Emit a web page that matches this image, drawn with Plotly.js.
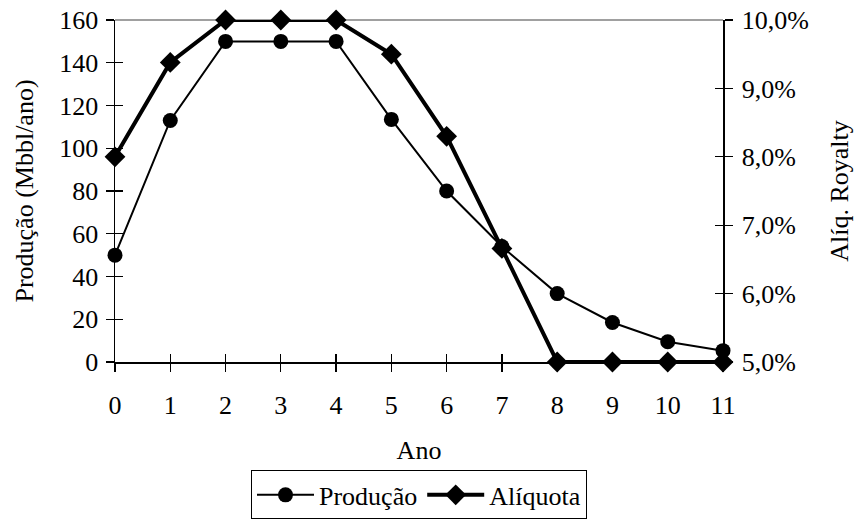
<!DOCTYPE html>
<html><head><meta charset="utf-8">
<script src="https://cdn.plot.ly/plotly-3.0.1.min.js"></script>
<style>body{margin:0;background:#fff}#chart{width:856px;height:521px}</style>
</head><body><div id="chart"></div>
<script>
const anos = [0,1,2,3,4,5,6,7,8,9,10,11];
const producao = [50,113,150,150,150,113.5,80,54,32,18.5,9.5,5.3];
const aliquota = [0.080,0.0938,0.100,0.100,0.100,0.095,0.083,0.0666,0.050,0.050,0.050,0.050];

const F = "Liberation Serif, Times New Roman, serif";
const fnt = {family:F, size:26, color:'#000'};

const traces = [
  {x:anos, y:producao, name:'Produção', type:'scatter', mode:'lines+markers',
   line:{color:'#000', width:2}, marker:{symbol:'circle', size:15, color:'#000'},
   cliponaxis:false, xaxis:'x', yaxis:'y'},
  {x:anos, y:aliquota, name:'Alíquota', type:'scatter', mode:'lines+markers',
   line:{color:'#000', width:4}, marker:{symbol:'diamond', size:16, color:'#000'},
   cliponaxis:false, xaxis:'x', yaxis:'y2'}
];

const layout = {
  width:856, height:521,
  margin:{l:115, r:133, t:20, b:159},
  paper_bgcolor:'#fff', plot_bgcolor:'#fff',
  font:fnt,
  separators:',.',
  showlegend:true,
  legend:{orientation:'h', x:0.5, xanchor:'center', yref:'container', y:0.003, yanchor:'bottom',
          bordercolor:'#000', borderwidth:1, font:fnt, itemwidth:57, tracegroupgap:0},
  xaxis:{range:[0,11], tickvals:anos, ticktext:anos.map(String), showgrid:false, zeroline:false,
         showline:true, linecolor:'#000', linewidth:1.5, ticks:'outside', ticklen:8, tickwidth:1.2,
         tickcolor:'#000', ticklabelstandoff:11, tickfont:fnt,
         title:{text:'Ano', font:fnt, standoff:22}},
  xaxis2:{range:[0,11], overlaying:'x', tickvals:anos, showticklabels:false, showgrid:false,
          zeroline:false, ticks:'inside', ticklen:8, tickwidth:1.2, tickcolor:'#000', showline:false},
  yaxis:{range:[0,160], dtick:20, tick0:0, showgrid:false, zeroline:false,
         showline:true, linecolor:'#000', linewidth:1.5, ticks:'outside', ticklen:8, tickwidth:1.2,
         tickcolor:'#000', tickfont:fnt, ticklabelstandoff:2,
         title:{text:'Produção (Mbbl/ano)', font:fnt, standoff:18}},
  yaxis3:{range:[0,160], dtick:20, tick0:0, overlaying:'y', showticklabels:false, showgrid:false,
          zeroline:false, ticks:'inside', ticklen:8, tickwidth:1.2, tickcolor:'#000', showline:false},
  yaxis2:{range:[0.05,0.10], dtick:0.01, tick0:0.05, overlaying:'y', side:'right', tickformat:'.1%',
          showgrid:false, zeroline:false, showline:true, linecolor:'#000', linewidth:1.5,
          ticks:'outside', ticklen:8, tickwidth:1.2, tickcolor:'#000', tickfont:fnt, ticklabelstandoff:4,
          title:{text:'Alíq. Royalty', font:fnt, standoff:22}},
  yaxis4:{range:[0.05,0.10], dtick:0.01, tick0:0.05, overlaying:'y', side:'right', showticklabels:false,
          showgrid:false, zeroline:false, ticks:'inside', ticklen:8, tickwidth:1.2, tickcolor:'#000', showline:false},
  shapes:[{type:'line', xref:'paper', yref:'paper', x0:0, x1:1, y0:1, y1:1,
           line:{color:'#808080', width:1.5}, layer:'below'}]
};

traces.push({x:[0], y:[0], xaxis:'x2', yaxis:'y3', mode:'markers', marker:{opacity:0}, showlegend:false, hoverinfo:'skip'});
traces.push({x:[0], y:[0.05], xaxis:'x2', yaxis:'y4', mode:'markers', marker:{opacity:0}, showlegend:false, hoverinfo:'skip'});

Plotly.newPlot('chart', traces, layout, {displayModeBar:false, staticPlot:true});
</script></body></html>
